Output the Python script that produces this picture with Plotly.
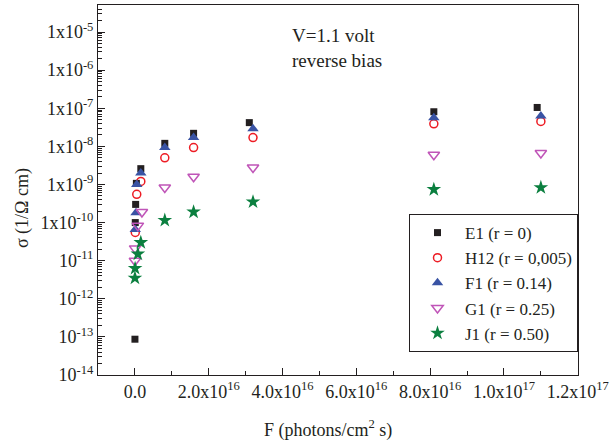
import plotly.graph_objects as go

# ---- data ----
e1_F = [1e13, 1e14, 2e14, 4e14, 1.6e15, 8.1e15, 1.59e16, 3.1e16, 8.1e16, 1.09e17]
e1_s = [8.7e-14, 1.0e-10, 3.0e-10, 1.07e-9, 2.6e-9, 1.2e-8, 2.2e-8, 4.2e-8, 8.1e-8, 1.05e-7]

h12_F = [1e14, 5e14, 1.6e15, 8.1e15, 1.59e16, 3.2e16, 8.1e16, 1.1e17]
h12_s = [5.5e-11, 5.5e-10, 1.2e-9, 5.0e-9, 9.3e-9, 1.7e-8, 3.9e-8, 4.5e-8]

f1_F = [1e14, 3e14, 5e14, 1.6e15, 8.1e15, 1.59e16, 3.2e16, 8.1e16, 1.1e17]
f1_s = [6.6e-11, 1.8e-10, 1.0e-9, 2.0e-9, 9.3e-9, 1.7e-8, 2.9e-8, 5.6e-8, 6.3e-8]

g1_F = [1e13, 5e13, 8e14, 1.9e15, 8.1e15, 1.59e16, 3.2e16, 8.1e16, 1.1e17]
g1_s = [1.0e-11, 2.1e-11, 8.3e-11, 1.9e-10, 8.3e-10, 1.6e-9, 2.8e-9, 6.0e-9, 6.7e-9]

j1_F = [1e13, 5e13, 8e14, 1.6e15, 8.1e15, 1.59e16, 3.2e16, 8.1e16, 1.1e17]
j1_s = [3.5e-12, 6.3e-12, 1.5e-11, 3.0e-11, 1.15e-10, 1.9e-10, 3.5e-10, 7.4e-10, 8.3e-10]

series_names = ["E1 (r = 0)", "H12 (r = 0,005)", "F1 (r = 0.14)", "G1 (r = 0.25)", "J1 (r = 0.50)"]

x_tickvals = [0, 2e16, 4e16, 6e16, 8e16, 1e17, 1.2e17]
x_ticktext = ["0.0", "2.0x10<sup>16</sup>", "4.0x10<sup>16</sup>", "6.0x10<sup>16</sup>",
              "8.0x10<sup>16</sup>", "1.0x10<sup>17</sup>", "1.2x10<sup>17</sup>"]
y_decades = [-5, -6, -7, -8, -9, -10, -11, -12, -13, -14]
y_ticktext = ["1x10<sup>-5</sup>", "1x10<sup>-6</sup>", "1x10<sup>-7</sup>", "1x10<sup>-8</sup>",
              "1x10<sup>-9</sup>", "1x10<sup>-10</sup>", "10<sup>-11</sup>", "10<sup>-12</sup>",
              "10<sup>-13</sup>", "10<sup>-14</sup>"]
y_tickvals = [10.0 ** d for d in y_decades]
y_minorvals = [m * 10.0 ** d for d in range(-14, -4) for m in range(2, 10)]

FONT = "Liberation Serif, Times New Roman, serif"
INK = "#231f20"
X_RANGE = [-1e16, 1.2006e17]
Y_RANGE = [-14, -4.29]

fig = go.Figure()
styles = [
    (e1_F, e1_s, dict(symbol="square", size=7, color=INK)),
    (h12_F, h12_s, dict(symbol="circle-open", size=8, color="#ed1c24", line=dict(width=1.5, color="#ed1c24"))),
    (f1_F, f1_s, dict(symbol="triangle-up", size=10, color="#3953a4")),
    (g1_F, g1_s, dict(symbol="triangle-down-open", size=10, color="#c055b8", line=dict(width=1.5, color="#c055b8"))),
    (j1_F, j1_s, dict(symbol="star", size=11, color="#0b7f3f")),
]
for name, (xs, ys, mk) in zip(series_names, styles):
    fig.add_trace(go.Scatter(x=xs, y=ys, mode="markers", name=name, marker=mk))

fig.update_layout(
    width=613, height=441,
    margin=dict(l=98, r=31, t=4, b=66),
    paper_bgcolor="white", plot_bgcolor="white",
    font=dict(family=FONT, size=18, color=INK),
    showlegend=True,
    legend=dict(x=1, xanchor="right", y=0.062, yanchor="bottom",
                bordercolor=INK, borderwidth=1, bgcolor="white",
                font=dict(family=FONT, size=17), itemwidth=45,
                tracegroupgap=0),
    xaxis=dict(range=X_RANGE, tickmode="array", tickvals=x_tickvals, ticktext=x_ticktext,
               showline=True, linecolor=INK, linewidth=1, mirror=True,
               ticks="inside", ticklen=7, tickcolor=INK,
               minor=dict(tickmode="linear", tick0=0, dtick=1e16, ticks="inside", ticklen=4, tickcolor=INK),
               showgrid=False, zeroline=False, tickfont=dict(family=FONT, size=18)),
    yaxis=dict(type="log", range=Y_RANGE, tickmode="array", tickvals=y_tickvals, ticktext=y_ticktext,
               showline=True, linecolor=INK, linewidth=1, mirror=True,
               ticks="inside", ticklen=7, tickcolor=INK,
               minor=dict(tickmode="array", tickvals=y_minorvals, ticks="inside", ticklen=4, tickcolor=INK),
               showgrid=False, zeroline=False, tickfont=dict(family=FONT, size=18)),
    annotations=[
        dict(text="V=1.1 volt<br>reverse bias", xref="paper", yref="paper",
             x=(292 - 98) / 484, y=(375 - 22) / 371, xanchor="left", yanchor="top",
             align="left", showarrow=False, font=dict(family=FONT, size=19)),
        dict(text="F (photons/cm<sup>2</sup> s)", xref="paper", yref="paper",
             x=(330 - 98) / 484, y=(375 - 429) / 371, xanchor="center", yanchor="middle",
             showarrow=False, font=dict(family=FONT, size=18)),
        dict(text="σ (1/Ω cm)", xref="paper", yref="paper", textangle=-90,
             x=(22 - 98) / 484, y=(375 - 208) / 371, xanchor="center", yanchor="middle",
             showarrow=False, font=dict(family=FONT, size=18)),
    ],
)

fig.write_html("out.html")
